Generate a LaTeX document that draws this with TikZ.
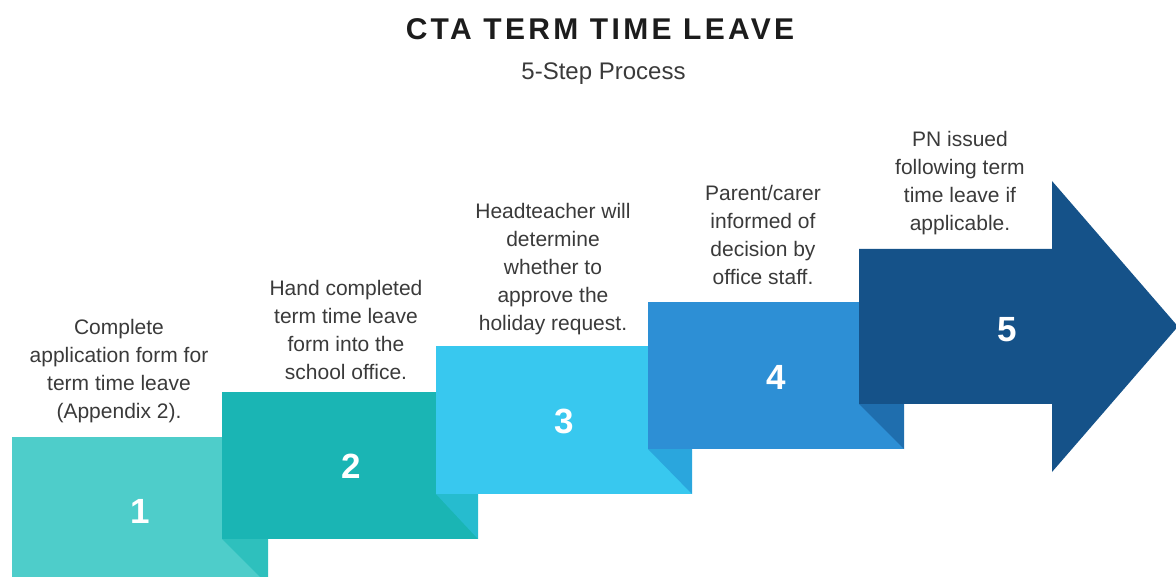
\documentclass[tikz,border=0pt]{standalone}
\usepackage{fontspec}
\setmainfont{Liberation Sans}
\newfontfamily\titlefont[LetterSpace=11]{Liberation Sans}
\definecolor{cA}{HTML}{4ECDCA}
\definecolor{fA}{HTML}{2EC0BD}
\definecolor{cB}{HTML}{1AB5B4}
\definecolor{fB}{HTML}{26BCCF}
\definecolor{cC}{HTML}{38C8EF}
\definecolor{fC}{HTML}{2AA6DD}
\definecolor{cD}{HTML}{2D8FD5}
\definecolor{fD}{HTML}{1F6EAE}
\definecolor{cE}{HTML}{155289}
\definecolor{txtgrey}{HTML}{3A3A3A}
\definecolor{titlegrey}{HTML}{1C1C1C}
\begin{document}
\begin{tikzpicture}[x=1pt,y=-1pt,
  desc/.style={font=\fontsize{21}{28}\selectfont, text=txtgrey, align=center, inner sep=0pt},
  num/.style={font=\fontsize{35}{40}\selectfont\bfseries, text=white, inner sep=0pt}]
\useasboundingbox (0,0) rectangle (1176,577);
\clip (0,0) rectangle (1176,577);
% step 1
\fill[cA] (12,437) rectangle (268,590);
\fill[fA] (222,539) -- (268,539) -- (268,585) -- cycle;
% step 2
\fill[cB] (222,392) rectangle (478,539);
\fill[fB] (436,494) -- (478,494) -- (478,539) -- cycle;
% step 3
\fill[cC] (436,346) rectangle (692,494);
\fill[fC] (648,449) -- (692,449) -- (692,494) -- cycle;
% step 4
\fill[cD] (648,302) rectangle (904,449);
\fill[fD] (859,404) -- (904,404) -- (904,449) -- cycle;
% step 5 arrow
\fill[cE] (859,249) -- (1052,249) -- (1052,181) -- (1178,326.5) -- (1052,472) -- (1052,404) -- (859,404) -- cycle;
% numbers
\node[num] (n1) at (140,511.5) {1};
\node[num] (n2) at (351,466.5) {2};
\node[num] (n3) at (564,421.5) {3};
\node[num] (n4) at (776,377) {4};
\node[num] (n5) at (1007.5,329.5) {5};
% descriptions
\node[desc] (t1) at (119,371) {Complete\\application form for\\term time leave\\(Appendix 2).};
\node[desc] (t2) at (346,330) {Hand completed\\term time leave\\form into the\\school office.};
\node[desc] (t3) at (553,269.5) {Headteacher will\\determine\\whether to\\approve the\\holiday request.};
\node[desc] (t4) at (763,235) {Parent/carer\\informed of\\decision by\\office staff.};
\node[desc] (t5) at (960,183.5) {PN issued\\following term\\time leave if\\applicable.};
% titles
\node[anchor=base, inner sep=0pt, text=titlegrey, font=\titlefont\bfseries\fontsize{30}{35}\selectfont] (title) at (600,40) {CTA TERM TIME LEAVE};
\node[anchor=base, inner sep=0pt, text=txtgrey, font=\fontsize{24}{29}\selectfont] (sub) at (603.5,80) {5-Step Process};
\end{tikzpicture}
\end{document}
